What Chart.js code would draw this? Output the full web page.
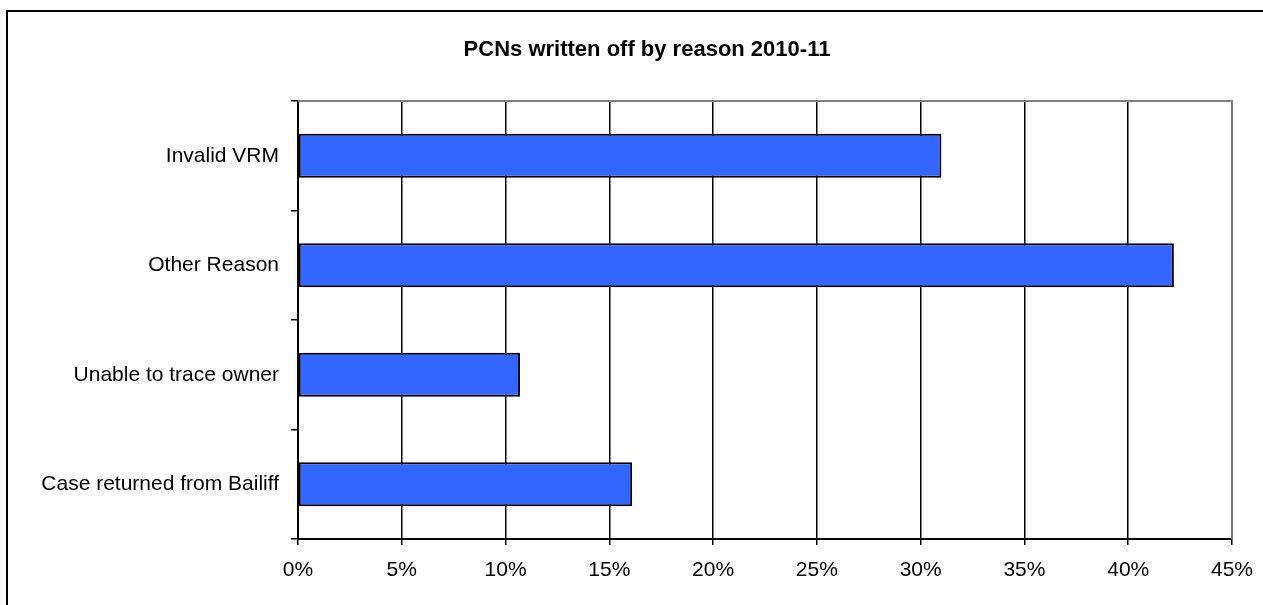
<!DOCTYPE html>
<html>
<head>
<meta charset="utf-8">
<script src="https://cdn.jsdelivr.net/npm/chart.js@4"></script>
<style>
  html, body { margin: 0; padding: 0; background: #fff; }
  #wrap { width: 1263px; height: 605px; position: relative; overflow: hidden; }
</style>
</head>
<body>
<div id="wrap"><canvas id="c" width="1263" height="605"></canvas></div>
<script>
const titleText = 'PCNs written off by reason 2010-11';
const categories = ['Invalid VRM', 'Other Reason', 'Unable to trace owner', 'Case returned from Bailiff'];
const shares = [31.0, 42.2, 10.7, 16.1];
const xMin = 0, xMax = 45, xStep = 5;

const FONT = "'Liberation Sans', Arial, sans-serif";

const framePlugin = {
  id: 'frame',
  beforeDraw(chart) {
    const ctx = chart.ctx;
    ctx.save();
    ctx.fillStyle = '#fff';
    ctx.fillRect(0, 0, chart.width, chart.height);
    ctx.strokeStyle = '#000';
    ctx.lineWidth = 2;
    ctx.beginPath();
    ctx.moveTo(7, chart.height + 5);
    ctx.lineTo(7, 11);
    ctx.lineTo(chart.width + 5, 11);
    ctx.stroke();
    ctx.restore();
  },
  beforeDatasetsDraw(chart) {
    const ctx = chart.ctx;
    const a = chart.chartArea;
    ctx.save();
    ctx.strokeStyle = '#808080';
    ctx.lineWidth = 2;
    ctx.beginPath();
    ctx.moveTo(a.left, a.top);
    ctx.lineTo(a.right, a.top);
    ctx.lineTo(a.right, a.bottom);
    ctx.stroke();
    ctx.restore();
  },
  afterDraw(chart) {
    const ctx = chart.ctx;
    ctx.save();
    ctx.fillStyle = '#000';
    ctx.font = "bold 22px " + FONT;
    ctx.textAlign = 'center';
    ctx.textBaseline = 'middle';
    ctx.fillText(titleText, 647, 50);
    ctx.restore();
  }
};

new Chart(document.getElementById('c'), {
  type: 'bar',
  data: {
    labels: categories,
    datasets: [{
      data: shares,
      backgroundColor: '#3366FF',
      borderColor: '#000',
      borderWidth: 2,
      borderSkipped: false,
      categoryPercentage: 1.0,
      barPercentage: 0.4
    }]
  },
  options: {
    indexAxis: 'y',
    responsive: false,
    animation: false,
    devicePixelRatio: 1,
    layout: { padding: { top: 101, right: 31, left: 0, bottom: 0 } },
    plugins: { legend: { display: false }, title: { display: false }, tooltip: { enabled: false } },
    scales: {
      x: {
        min: xMin, max: xMax,
        ticks: {
          stepSize: xStep,
          color: '#000',
          font: { family: FONT, size: 21 },
          padding: 13,
          maxRotation: 0,
          callback: v => v + '%'
        },
        grid: {
          color: ctx => (ctx.tick && ctx.tick.value === xMax) ? '#808080' : '#000',
          lineWidth: 1.5,
          tickLength: 6,
          tickColor: '#000',
          tickWidth: 1.5
        },
        border: { color: '#000', width: 2 },
        afterFit: s => { s.height = 66; s.paddingLeft = 0; s.paddingRight = 0; }
      },
      y: {
        ticks: {
          color: '#000',
          font: { family: FONT, size: 21 },
          padding: 12
        },
        grid: {
          drawOnChartArea: false,
          offset: true,
          tickLength: 7,
          color: '#000',
          lineWidth: 1.5
        },
        border: { color: '#000', width: 2 },
        afterFit: s => { s.width = 298; s.paddingTop = 0; s.paddingBottom = 0; }
      }
    }
  },
  plugins: [framePlugin]
});
</script>
</body>
</html>
